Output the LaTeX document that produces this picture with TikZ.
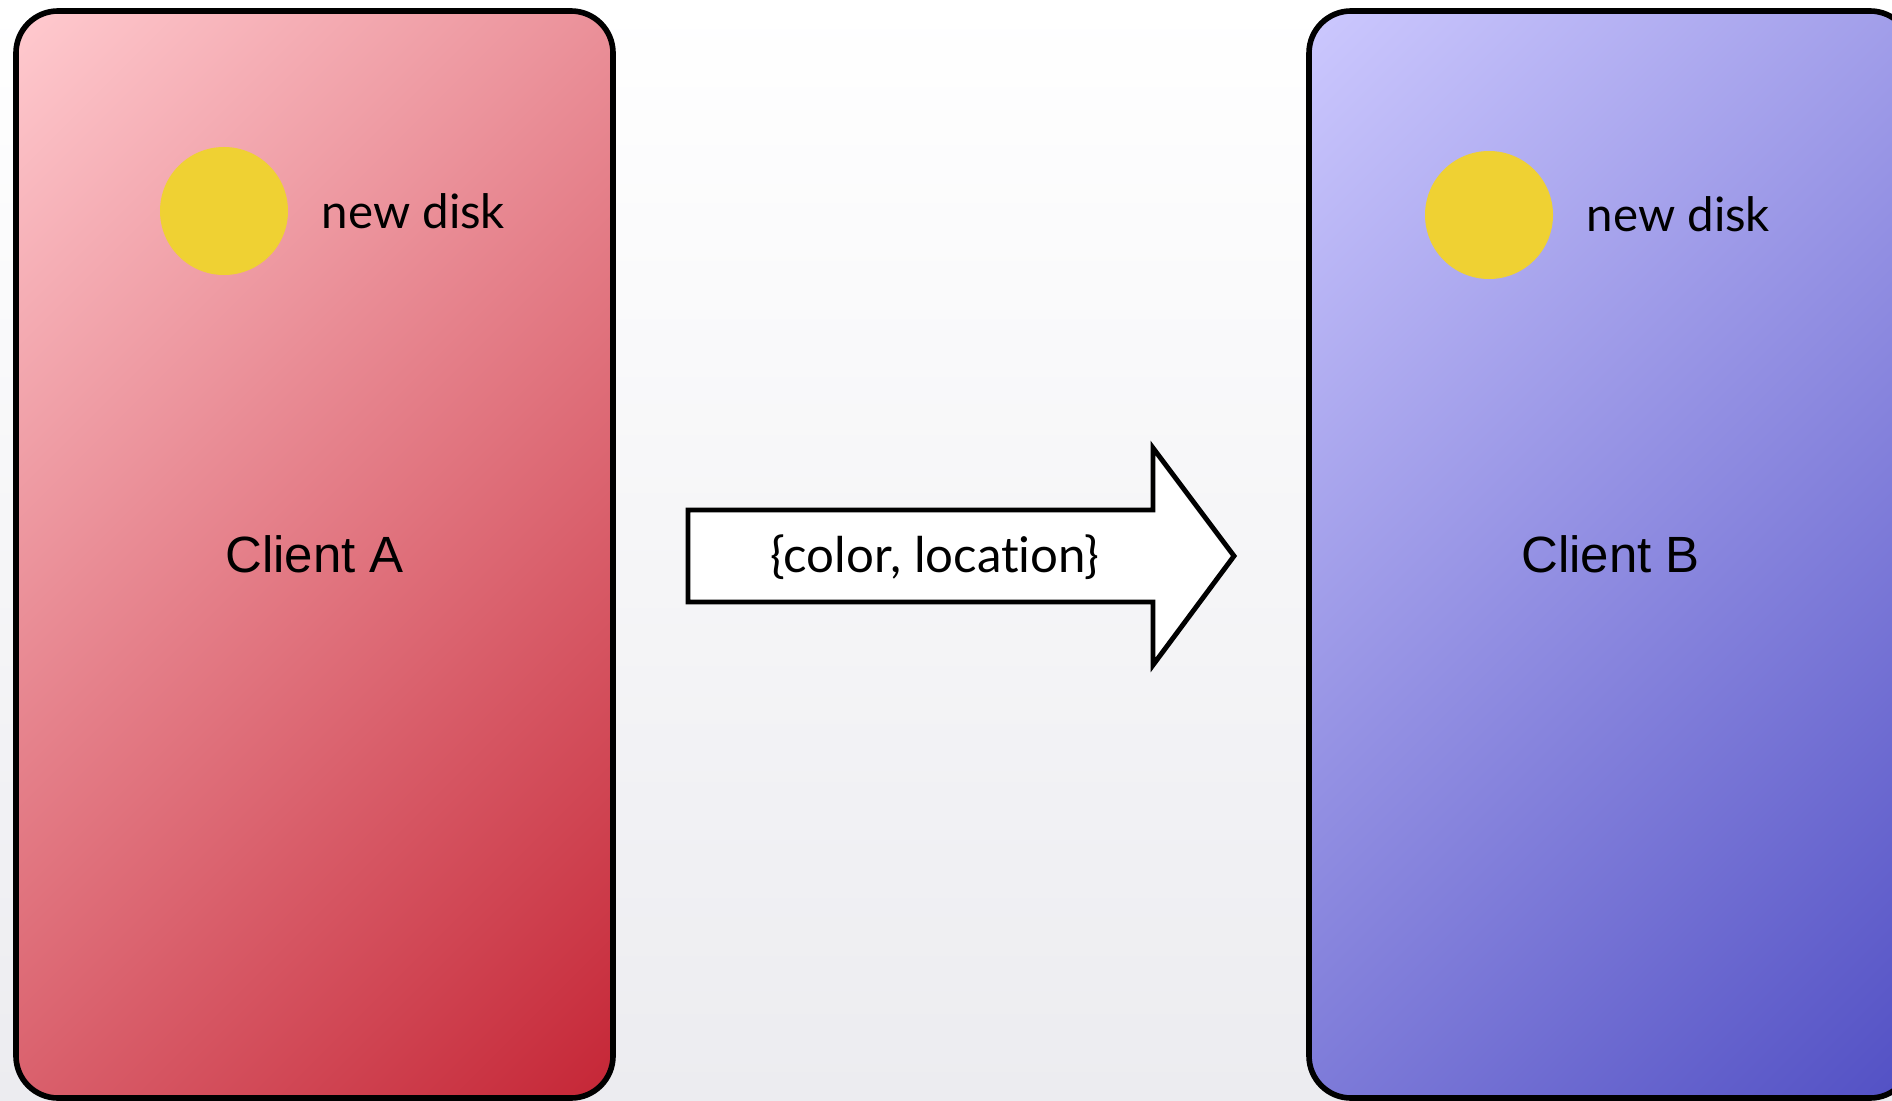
\documentclass[tikz,border=0pt]{standalone}
\usepackage{fontspec}
\setmainfont{Liberation Sans}
\newfontfamily\gillfont[Ligatures=NoCommon,RawFeature={-liga;-dlig;-calt}]{Lato}
\usetikzlibrary{positioning}

\definecolor{redhi}{RGB}{255,202,207}
\definecolor{redlo}{RGB}{197,38,54}
\definecolor{bluehi}{RGB}{204,200,254}
\definecolor{bluelo}{RGB}{82,80,196}
\definecolor{diskyellow}{RGB}{239,209,51}
\definecolor{bggray}{RGB}{236,236,240}

% diagonal fills of the two client panels
\pgfdeclareverticalshading{clientred}{100bp}{color(0bp)=(redlo); color(14.6bp)=(redlo); color(85.4bp)=(redhi); color(100bp)=(redhi)}
\pgfdeclareverticalshading{clientblue}{100bp}{color(0bp)=(bluelo); color(14.6bp)=(bluelo); color(85.4bp)=(bluehi); color(100bp)=(bluehi)}

\tikzset{
  client/.style={draw=black, line width=1.6pt, rounded corners=0.42cm,
    shade, shading angle=45, minimum height=10.87cm, inner sep=0pt,
    font=\fontsize{14.5}{17}\selectfont},
  disk/.style={circle, fill=diskyellow, minimum size=1.28cm, inner sep=0pt},
  disklabel/.style={anchor=base west, inner sep=0pt, font=\gillfont\fontsize{13.5}{16}\selectfont},
  arrowbox/.style={draw=black, fill=white, line width=1.4pt, line join=miter},
}

\begin{document}
\begin{tikzpicture}
\useasboundingbox (0,0) rectangle (18.92,-11);
% backdrop
\fill[top color=white, bottom color=bggray] (0,0) rectangle (18.92,-11);

% the two clients
\node[client, shading=clientred, minimum width=5.97cm] (clientA) at (3.145,-5.545) {Client A};
\node[client, shading=clientblue, minimum width=6.03cm] (clientB) at (16.105,-5.545) {Client B};

% their disks
\node[disk] (diskA) at (2.24,-2.11) {};
\node[disklabel, xshift=0.97cm, yshift=-0.17cm] (labelA) at (diskA) {new disk};
\node[disk] (diskB) at (14.89,-2.15) {};
\node[disklabel, xshift=0.97cm, yshift=-0.17cm] (labelB) at (diskB) {new disk};

% message sent from A to B
\path (6.88,-5.10) coordinate (tailtop)
  (11.53,-5.10) coordinate (neck)
  (11.53,-4.48) coordinate (barbtop)
  (12.34,-5.56) coordinate (tip)
  (11.53,-6.65) coordinate (barbbot)
  (11.53,-6.02) coordinate (neckbot)
  (6.88,-6.02) coordinate (tailbot);
\draw[arrowbox] (tailtop)--(neck)--(barbtop)--(tip)--(barbbot)--(neckbot)--(tailbot)--cycle;
\node[anchor=base, inner sep=0pt, font=\gillfont\fontsize{14}{16}\selectfont] (msg) at (9.35,-5.72) {\{color, locat\kern0pt ion\}};
\end{tikzpicture}
\end{document}
